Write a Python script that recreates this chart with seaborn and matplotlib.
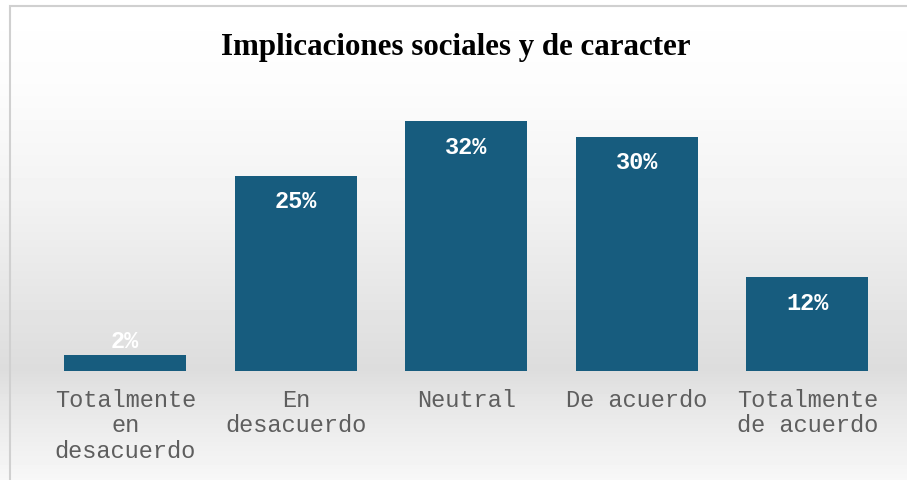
import matplotlib
matplotlib.use("Agg")
import matplotlib.pyplot as plt
from matplotlib.patches import Rectangle
import numpy as np
import pandas as pd
import seaborn as sns

# ==========================================================
# Data
# ==========================================================

categories = [
    "Totalmente\nen\ndesacuerdo",
    "En\ndesacuerdo",
    "Neutral",
    "De acuerdo",
    "Totalmente\nde acuerdo",
]
percentages = [2, 25, 32, 30, 12]
title = "Implicaciones sociales y de caracter"

df = pd.DataFrame({"categoria": categories, "porcentaje": percentages})

bar_color = "#175c7e"

sns.set_theme(style="white")

fig = plt.figure(figsize=(9.07, 4.81), dpi=100)

# ==========================================================
# Background gradient (white -> gray band -> light)
# ==========================================================

bg = fig.add_axes([0, 0, 1, 1], zorder=0)
stops_y = np.array([0, 80, 200, 300, 370, 400, 481]) / 481
stops_v = np.array([1.00, 0.99, 0.95, 0.90, 0.865, 0.90, 0.97])
yy = np.linspace(0, 1, 481)
grad = np.interp(yy, stops_y, stops_v)
img = np.repeat(grad[:, None], 10, axis=1)
bg.imshow(img, cmap="gray", vmin=0, vmax=1, aspect="auto",
          extent=[0, 1, 1, 0])
bg.set_xlim(0, 1)
bg.set_ylim(1, 0)
bg.axis("off")

# border (left + top visible)
fig.patches.append(Rectangle((10 / 907, -0.01), 1.0, (481 - 7) / 481 + 0.01,
                             transform=fig.transFigure, fill=False,
                             edgecolor="#d0d0d0", linewidth=1.5, zorder=1))

# ==========================================================
# Bars
# ==========================================================

ax = fig.add_axes([40 / 907, (481 - 372) / 481,
                   (892.5 - 40) / 907, (372 - 95) / 481], zorder=2)
ax.patch.set_alpha(0)

sns.barplot(data=df, x="categoria", y="porcentaje", color=bar_color,
            saturation=1, width=0.715, linewidth=0, ax=ax)

ax.set_xlim(-0.5, 4.5)
ax.set_ylim(0, 35.5)
ax.set_xlabel("")
ax.set_ylabel("")
ax.set_yticks([])
for s in ax.spines.values():
    s.set_visible(False)

ax.tick_params(axis="x", length=0, pad=12)
for lab in ax.get_xticklabels():
    lab.set_fontfamily("Liberation Mono")
    lab.set_fontsize(17)
    lab.set_color("#5e5e5e")
    lab.set_linespacing(1.15)

for i, v in enumerate(percentages):
    if v < 5:
        off = 11
    else:
        off = -18
    ax.annotate(f"{v}%", xy=(i, v), xytext=(0, off),
                textcoords="offset points", ha="center", va="center",
                fontfamily="Liberation Mono", fontweight="bold",
                fontsize=17, color="white")

fig.text(456 / 907, 1 - 47 / 481, title, ha="center", va="center",
         fontfamily="Liberation Serif", fontweight="bold", fontsize=22.3,
         color="black")

fig.savefig("out.png", dpi=100)
